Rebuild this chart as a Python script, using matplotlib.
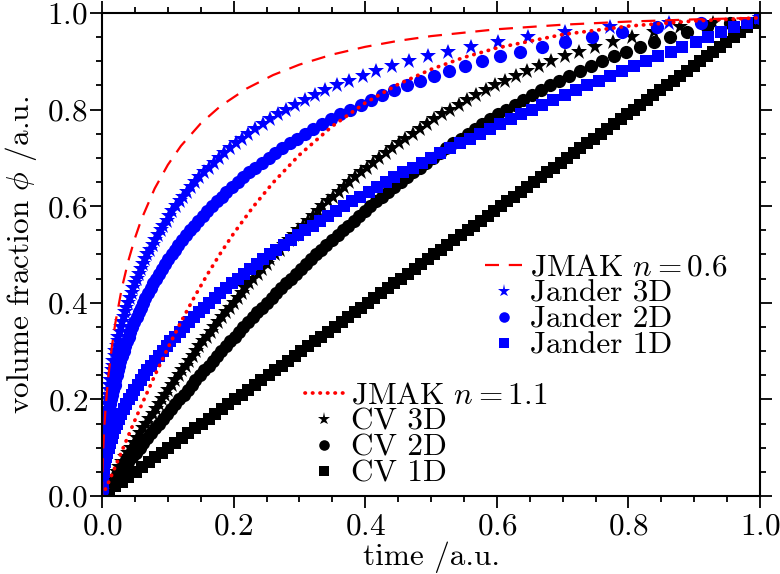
import matplotlib.pyplot as plt
from matplotlib.ticker import MultipleLocator

plt.rcParams['font.family'] = 'serif'
plt.rcParams['font.serif'] = ['cmr10']
plt.rcParams['mathtext.fontset'] = 'cm'
plt.rcParams['axes.formatter.use_mathtext'] = True
plt.rcParams['font.size'] = 22.5

# converted fraction levels shared by all model curves (markers)
phi_levels = [0.01, 0.02, 0.03, 0.04, 0.05, 0.06, 0.07, 0.08, 0.09, 0.10,
              0.11, 0.12, 0.13, 0.14, 0.15, 0.16, 0.17, 0.18, 0.19, 0.20,
              0.21, 0.22, 0.23, 0.24, 0.25, 0.26, 0.27, 0.28, 0.29, 0.30,
              0.31, 0.32, 0.33, 0.34, 0.35, 0.36, 0.37, 0.38, 0.39, 0.40,
              0.41, 0.42, 0.43, 0.44, 0.45, 0.46, 0.47, 0.48, 0.49, 0.50,
              0.51, 0.52, 0.53, 0.54, 0.55, 0.56, 0.57, 0.58, 0.59, 0.60,
              0.61, 0.62, 0.63, 0.64, 0.65, 0.66, 0.67, 0.68, 0.69, 0.70,
              0.71, 0.72, 0.73, 0.74, 0.75, 0.76, 0.77, 0.78, 0.79, 0.80,
              0.81, 0.82, 0.83, 0.84, 0.85, 0.86, 0.87, 0.88, 0.89, 0.90,
              0.91, 0.92, 0.93, 0.94, 0.95, 0.96, 0.97, 0.98, 0.99]

# time needed to reach each level
t_cv1 = [0.010, 0.020, 0.030, 0.040, 0.051, 0.061, 0.071, 0.081, 0.091, 0.101,
         0.111, 0.121, 0.131, 0.141, 0.152, 0.162, 0.172, 0.182, 0.192, 0.202,
         0.212, 0.222, 0.232, 0.242, 0.253, 0.263, 0.273, 0.283, 0.293, 0.303,
         0.313, 0.323, 0.333, 0.343, 0.354, 0.364, 0.374, 0.384, 0.394, 0.404,
         0.414, 0.424, 0.434, 0.444, 0.455, 0.465, 0.475, 0.485, 0.495, 0.505,
         0.515, 0.525, 0.535, 0.545, 0.556, 0.566, 0.576, 0.586, 0.596, 0.606,
         0.616, 0.626, 0.636, 0.646, 0.657, 0.667, 0.677, 0.687, 0.697, 0.707,
         0.717, 0.727, 0.737, 0.747, 0.758, 0.768, 0.778, 0.788, 0.798, 0.808,
         0.818, 0.828, 0.838, 0.848, 0.859, 0.869, 0.879, 0.889, 0.899, 0.909,
         0.919, 0.929, 0.939, 0.949, 0.960, 0.970, 0.980, 0.990, 1.000]

t_cv2 = [0.006, 0.011, 0.017, 0.022, 0.028, 0.034, 0.040, 0.045, 0.051, 0.057,
         0.063, 0.069, 0.075, 0.081, 0.087, 0.093, 0.099, 0.105, 0.111, 0.117,
         0.124, 0.130, 0.136, 0.142, 0.149, 0.155, 0.162, 0.168, 0.175, 0.181,
         0.188, 0.195, 0.202, 0.208, 0.215, 0.222, 0.229, 0.236, 0.243, 0.250,
         0.258, 0.265, 0.272, 0.280, 0.287, 0.295, 0.302, 0.310, 0.318, 0.325,
         0.333, 0.341, 0.349, 0.358, 0.366, 0.374, 0.383, 0.391, 0.400, 0.408,
         0.417, 0.426, 0.435, 0.444, 0.454, 0.463, 0.473, 0.483, 0.492, 0.503,
         0.513, 0.523, 0.534, 0.545, 0.556, 0.567, 0.578, 0.590, 0.602, 0.614,
         0.627, 0.640, 0.653, 0.667, 0.681, 0.695, 0.710, 0.726, 0.743, 0.760,
         0.778, 0.797, 0.817, 0.839, 0.863, 0.889, 0.919, 0.954, 1.000]

t_cv3 = [0.004, 0.009, 0.013, 0.017, 0.022, 0.026, 0.030, 0.035, 0.039, 0.044,
         0.049, 0.053, 0.058, 0.062, 0.067, 0.072, 0.077, 0.082, 0.086, 0.091,
         0.096, 0.101, 0.106, 0.111, 0.117, 0.122, 0.127, 0.132, 0.138, 0.143,
         0.148, 0.154, 0.159, 0.165, 0.170, 0.176, 0.182, 0.188, 0.194, 0.200,
         0.206, 0.212, 0.218, 0.224, 0.230, 0.237, 0.243, 0.250, 0.256, 0.263,
         0.270, 0.277, 0.284, 0.291, 0.298, 0.305, 0.313, 0.320, 0.328, 0.335,
         0.343, 0.351, 0.360, 0.368, 0.376, 0.385, 0.394, 0.403, 0.412, 0.421,
         0.431, 0.441, 0.451, 0.461, 0.472, 0.483, 0.494, 0.505, 0.517, 0.529,
         0.542, 0.555, 0.569, 0.583, 0.597, 0.613, 0.629, 0.646, 0.664, 0.683,
         0.703, 0.725, 0.749, 0.776, 0.805, 0.839, 0.879, 0.929, 1.000]

t_j1 = [0.0001, 0.0004, 0.0009, 0.0016, 0.0026, 0.0037, 0.0050, 0.0065, 0.0083, 0.010,
        0.012, 0.015, 0.017, 0.020, 0.023, 0.026, 0.029, 0.033, 0.037, 0.041,
        0.045, 0.049, 0.054, 0.059, 0.064, 0.069, 0.074, 0.080, 0.086, 0.092,
        0.098, 0.104, 0.111, 0.118, 0.125, 0.132, 0.140, 0.147, 0.155, 0.163,
        0.172, 0.180, 0.189, 0.198, 0.207, 0.216, 0.225, 0.235, 0.245, 0.255,
        0.265, 0.276, 0.287, 0.298, 0.309, 0.320, 0.331, 0.343, 0.355, 0.367,
        0.380, 0.392, 0.405, 0.418, 0.431, 0.444, 0.458, 0.472, 0.486, 0.500,
        0.514, 0.529, 0.544, 0.559, 0.574, 0.589, 0.605, 0.621, 0.637, 0.653,
        0.669, 0.686, 0.703, 0.720, 0.737, 0.755, 0.772, 0.790, 0.808, 0.826,
        0.845, 0.864, 0.882, 0.902, 0.921, 0.940, 0.960, 0.980, 1.000]

t_j2 = [0.0000, 0.0001, 0.0003, 0.0005, 0.0008, 0.0011, 0.0016, 0.0021, 0.0026, 0.0033,
        0.0040, 0.0047, 0.0056, 0.0065, 0.0075, 0.0086, 0.0098, 0.011, 0.012, 0.014,
        0.015, 0.017, 0.019, 0.020, 0.022, 0.024, 0.026, 0.028, 0.031, 0.033,
        0.035, 0.038, 0.041, 0.043, 0.046, 0.049, 0.053, 0.056, 0.059, 0.063,
        0.066, 0.070, 0.074, 0.078, 0.082, 0.087, 0.091, 0.096, 0.101, 0.106,
        0.111, 0.116, 0.122, 0.128, 0.134, 0.140, 0.146, 0.153, 0.160, 0.167,
        0.174, 0.182, 0.189, 0.198, 0.206, 0.215, 0.224, 0.233, 0.243, 0.253,
        0.263, 0.274, 0.285, 0.297, 0.309, 0.321, 0.334, 0.348, 0.362, 0.377,
        0.393, 0.409, 0.426, 0.444, 0.463, 0.484, 0.505, 0.527, 0.551, 0.577,
        0.605, 0.635, 0.668, 0.704, 0.744, 0.790, 0.844, 0.910, 1.000]

t_j3 = [0.0000, 0.0001, 0.0002, 0.0003, 0.0005, 0.0007, 0.0009, 0.0012, 0.0016, 0.0019,
        0.0024, 0.0028, 0.0033, 0.0039, 0.0045, 0.0052, 0.0059, 0.0067, 0.0075, 0.0083,
        0.0093, 0.010, 0.011, 0.012, 0.014, 0.015, 0.016, 0.017, 0.019, 0.020,
        0.022, 0.024, 0.025, 0.027, 0.029, 0.031, 0.033, 0.035, 0.037, 0.040,
        0.042, 0.045, 0.047, 0.050, 0.053, 0.056, 0.059, 0.062, 0.066, 0.069,
        0.073, 0.077, 0.080, 0.085, 0.089, 0.093, 0.098, 0.102, 0.107, 0.113,
        0.118, 0.123, 0.129, 0.135, 0.142, 0.148, 0.155, 0.162, 0.170, 0.178,
        0.186, 0.194, 0.203, 0.213, 0.222, 0.233, 0.244, 0.255, 0.267, 0.280,
        0.294, 0.308, 0.323, 0.339, 0.357, 0.375, 0.396, 0.417, 0.441, 0.466,
        0.495, 0.526, 0.561, 0.602, 0.648, 0.703, 0.772, 0.862, 1.000]

# JMAK curves, sampled in time
t_jmak06 = [0.0, 0.0005, 0.001, 0.002, 0.003, 0.005, 0.0075, 0.01, 0.015, 0.02,
            0.03, 0.04, 0.05, 0.06, 0.08, 0.10, 0.12, 0.15, 0.18, 0.22,
            0.26, 0.30, 0.35, 0.40, 0.45, 0.50, 0.60, 0.70, 0.80, 0.90, 1.0]
phi_jmak06 = [0.0, 0.0470, 0.0704, 0.1047, 0.1316, 0.1744, 0.2169, 0.2522, 0.3096, 0.3562,
              0.4298, 0.4870, 0.5338, 0.5732, 0.6365, 0.6855, 0.7249, 0.7713, 0.8072, 0.8437,
              0.8715, 0.8931, 0.9140, 0.9299, 0.9423, 0.9521, 0.9663, 0.9757, 0.9822, 0.9867, 0.9900]

t_jmak11 = [0.0, 0.005, 0.01, 0.02, 0.03, 0.04, 0.05, 0.06, 0.08, 0.10,
            0.12, 0.14, 0.16, 0.18, 0.20, 0.23, 0.26, 0.30, 0.35, 0.40,
            0.45, 0.50, 0.55, 0.60, 0.70, 0.80, 0.90, 1.0]
phi_jmak11 = [0.0, 0.0135, 0.0286, 0.0604, 0.0927, 0.1249, 0.1569, 0.1882, 0.2489, 0.3063,
              0.3605, 0.4111, 0.4585, 0.5025, 0.5435, 0.5992, 0.6488, 0.7062, 0.7657, 0.8138,
              0.8523, 0.8833, 0.9080, 0.9276, 0.9554, 0.9728, 0.9835, 0.9900]

blue = '#0000ff'
red = '#ff0000'

fig = plt.figure(figsize=(7.8, 5.74), dpi=100)
ax = fig.add_axes([0.1308, 0.1359, 0.8436, 0.8415])

mk = dict(linestyle='none', markeredgewidth=0)
h_cv1, = ax.plot(t_cv1, phi_levels, marker='s', ms=8.5, color='black', label='CV 1D', **mk)
h_cv2, = ax.plot(t_cv2, phi_levels, marker='o', ms=9.5, color='black', label='CV 2D', **mk)
h_cv3, = ax.plot(t_cv3, phi_levels, marker='*', ms=12, color='black', label='CV 3D', **mk)
h_j1, = ax.plot(t_j1, phi_levels, marker='s', ms=8.5, color=blue, label='Jander 1D', **mk)
h_j2, = ax.plot(t_j2, phi_levels, marker='o', ms=9.5, color=blue, label='Jander 2D', **mk)
h_j3, = ax.plot(t_j3, phi_levels, marker='*', ms=12, color=blue, label='Jander 3D', **mk)

h_n11, = ax.plot(t_jmak11, phi_jmak11, color=red, lw=2.7, linestyle=(0, (0.1, 1.9)),
                 dash_capstyle='round', label=r'JMAK $n=1.1$')
h_n06, = ax.plot(t_jmak06, phi_jmak06, color=red, lw=1.6, linestyle=(0, (6.3, 4.4)),
                 label=r'JMAK $n=0.6$')

ax.set_xlim(0, 1)
ax.set_ylim(0, 1)
ax.xaxis.set_major_locator(MultipleLocator(0.2))
ax.xaxis.set_minor_locator(MultipleLocator(0.05))
ax.yaxis.set_major_locator(MultipleLocator(0.2))
ax.yaxis.set_minor_locator(MultipleLocator(0.05))
ax.tick_params(which='both', direction='out', top=True, right=True, width=1.3)
ax.tick_params(which='major', length=8.6)
ax.tick_params(which='minor', length=4.3)
ax.tick_params(axis='x', which='both', pad=3)
ax.tick_params(axis='y', which='both', pad=1.5)
for sp in ax.spines.values():
    sp.set_linewidth(1.5)

ax.set_xlabel('time /a.u.', labelpad=1)
ax.set_ylabel(r'volume fraction $\phi$ /a.u.', labelpad=6)

leg_kw = dict(frameon=False, handlelength=1.2, handletextpad=0.25, labelspacing=-0.06,
              borderpad=0, borderaxespad=0, loc='upper left', markerscale=0.8)
leg1 = ax.legend(handles=[h_n06, h_j3, h_j2, h_j1], bbox_to_anchor=(0.582, 0.502), **leg_kw)
ax.add_artist(leg1)
ax.legend(handles=[h_n11, h_cv3, h_cv2, h_cv1], bbox_to_anchor=(0.309, 0.237), **leg_kw)

fig.savefig('out.png', dpi=100)
